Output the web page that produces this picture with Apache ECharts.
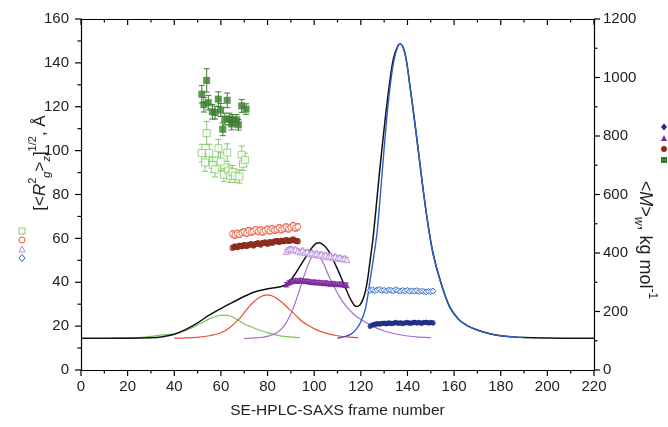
<!DOCTYPE html>
<html><head><meta charset="utf-8">
<script src="https://cdn.jsdelivr.net/npm/echarts@6/dist/echarts.min.js"></script>
<style>html,body{margin:0;padding:0;background:#fff}#c{width:668px;height:427px}</style>
</head><body><div id="c"></div>
<script>
// ---- data ----
const xTicks = [0, 220, 20];
const leftTicks = [0, 160, 20];
const rightTicks = [0, 1200, 200];

const blackCurve = [[0,14.5],[10,14.5],[20,14.5],[30,14.7],[35,15.2],[40,16.3],[45,18.5],[50,21.5],[55,25.0],[60,28.0],[65,30.8],[70,33.5],[75,35.8],[80,37.0],[85,37.8],[88,39.0],[91,42.5],[94,47.5],[97,52.5],[100,57.0],[102,58.0],[104,57.0],[106,54.5],[108,50.5],[110,46.0],[112,41.0],[114,36.0],[116,31.5],[118,29.0],[119.5,29.5],[121,32.5],[122,36],[123,42],[124,50],[125,58],[126,68],[127,79],[128,90],[130,110],[132,128],[134,142],[136,148],[137,148.6],[139,144],[141,130],[143,114],[145,97],[147,80],[149,65],[151,53],[154,41],[158,29],[162,23],[166,20],[170,18.2],[175,16.6],[180,15.6],[185,15.1],[190,14.8],[200,14.6],[210,14.5],[220,14.5]];
const greenCurve = [[13,14.5],[20,14.6],[25,14.8],[30,15.3],[35,16.0],[40,16.4],[45,18.0],[50,20.5],[55,23.3],[58,24.5],[61,25.0],[64,24.6],[67,23.0],[70,21.0],[73,19.7],[77,18.0],[80,17.0],[84,15.9],[88,15.2],[94,14.7]];
const redCurve = [[40,14.5],[45,14.6],[50,14.9],[55,15.6],[60,17.0],[64,19.5],[68,23.5],[71,27.5],[74,31.0],[77,33.4],[80,34.2],[83,33.3],[86,31.0],[89,28.0],[92,25.0],[95,22.0],[98,20.0],[101,18.3],[105,16.8],[110,15.6],[115,15.0],[119,14.8]];
const purpleCurve = [[70,14.3],[75,14.6],[80,15.3],[84,17.0],[87,20.0],[90,25.5],[92,31.0],[94,37.5],[96,44.0],[98,49.5],[100,52.5],[102,52.0],[104,48.5],[106,43.5],[108,39.0],[110,35.0],[112,31.5],[115,27.5],[118,24.5],[121,22.5],[125,20.0],[130,17.8],[135,16.4],[140,15.5],[145,15.0],[150,14.8]];
const blueCurve = [[110,14.5],[113,15.2],[116,16.5],[118,18.5],[120,22],[122,28],[124,41],[126,55],[127,63],[128,75],[130,101],[132,124],[134,140],[136,148],[137,148.6],[139,144],[141,130],[143,114],[145,97],[147,80],[149,65],[151,53],[154,41],[158,29],[162,23],[166,20],[170,18.2],[175,16.6],[180,15.6],[185,15.1],[190,14.8]];

// [frame, value, error]
const lightGreenRg = [[51.8,98.9,4],[53.2,94.6,4],[53.9,108.0,5.3],[55.0,98.9,4],[56.5,93.5,3.5],[57.5,91.5,3.5],[58.9,101.1,4],[59.9,95.0,4],[61.3,89.0,3],[62.7,99.1,4],[63.2,90.9,3],[63.9,88.5,3],[65.0,90.2,3],[66.0,88.5,3],[67.9,88.2,3],[68.9,98.1,4],[69.5,94.0,3],[70.3,95.8,3]];
const darkGreenMw = [[51.8,943,30],[52.7,907,25],[53.9,990,40],[54.6,914,25],[56.3,883,25],[57.5,880,22],[58.9,926,25],[59.9,889,22],[60.8,823,22],[61.7,858,20],[62.7,922,25],[63.6,858,20],[64.6,841,20],[65.0,855,18],[66.8,855,18],[67.5,838,18],[68.9,903,22],[70.8,892,18]];
const redFrames = [65,66,67,68,69,70,71,72,73,74,75,76,77,78,79,80,81,82,83,84,85,86,87,88,89,90,91,92,93];
const redRg = [62.0,61.5,62.3,61.8,62.6,63.0,62.4,63.5,62.8,63.3,64.0,63.1,63.8,62.9,63.6,64.2,63.4,64.5,63.7,64.1,64.8,63.9,64.6,65.2,64.3,65.0,65.8,64.7,65.3];
const darkRedMw = [418,422,420,425,423,427,424,428,430,426,431,433,429,434,436,432,437,435,439,441,438,442,440,444,441,443,446,442,440];
const purpleFrames = [88,89,90,91,92,93,94,95,96,97,98,99,100,101,102,103,104,105,106,107,108,109,110,111,112,113,114];
const purpleRg = [54.0,54.8,55.3,54.6,55.0,54.2,53.8,54.5,53.5,53.9,53.0,53.4,52.6,53.1,52.3,52.8,51.9,52.4,51.6,52.0,51.2,51.7,50.9,51.3,50.6,50.9,50.3];
const darkPurpleMw = [292,298,302,305,306,304,307,305,303,304,302,300,301,299,300,298,297,298,296,295,296,294,293,294,292,291,290];
const blueFrames = [124,125,126,127,128,129,130,131,132,133,134,135,136,137,138,139,140,141,142,143,144,145,146,147,148,149,150,151];
const blueRg = [36.3,36.6,36.1,36.5,36.8,36.2,36.4,36.0,36.5,36.3,36.1,36.6,36.2,35.9,36.3,36.0,36.4,35.8,36.1,35.9,36.2,35.7,36.0,35.8,35.6,35.9,35.7,36.0];
const navyMw = [150,154,156,158,157,159,160,158,161,159,160,162,160,161,159,161,162,160,161,163,161,162,160,162,163,161,162,161];

// ---- helpers ----
const FONT = 'Liberation Sans, Arial, sans-serif';
const zip = (xs, ys, e) => xs.map((x, i) => [x, ys[i], e]);
function errSeries(data, yIdx, color, cap) {
  return {
    type: 'custom', xAxisIndex: 0, yAxisIndex: yIdx, data: data, z: 3, silent: true,
    renderItem: function (params, api) {
      const x = api.value(0), y = api.value(1), e = api.value(2);
      const hi = api.coord([x, y + e]), lo = api.coord([x, y - e]);
      const st = { stroke: color, lineWidth: 1 };
      return { type: 'group', children: [
        { type: 'line', shape: { x1: hi[0], y1: hi[1], x2: lo[0], y2: lo[1] }, style: st },
        { type: 'line', shape: { x1: hi[0] - cap, y1: hi[1], x2: hi[0] + cap, y2: hi[1] }, style: st },
        { type: 'line', shape: { x1: lo[0] - cap, y1: lo[1], x2: lo[0] + cap, y2: lo[1] }, style: st }
      ]};
    }
  };
}
function pts(data, yIdx, sym, size, color, hollow) {
  return {
    type: 'scatter', xAxisIndex: 0, yAxisIndex: yIdx, data: data.map(d => [d[0], d[1]]),
    symbol: sym, symbolSize: size, z: 4, silent: true,
    itemStyle: hollow ? { color: '#fff', borderColor: color, borderWidth: 1 } : { color: color }
  };
}
function curve(data, color, w, z) {
  return { type: 'line', xAxisIndex: 0, yAxisIndex: 0, data: data, showSymbol: false, symbol: 'none',
    smooth: 0.35, lineStyle: { color: color, width: w }, z: z, silent: true };
}
// tick values (major + minor) generated from the axis ranges
function tickVals(t) { const out = []; for (let v = t[0]; v <= t[1] + 1e-9; v += t[2] / 2) out.push([v, (Math.round((v - t[0]) / (t[2] / 2)) % 2 === 0) ? 1 : 0]); return out; }
// side: 'bottom' | 'top' | 'left' | 'right'
function tickSeries(side) {
  const t = (side === 'bottom' || side === 'top') ? xTicks : (side === 'left' ? leftTicks : rightTicks);
  return {
    type: 'custom', xAxisIndex: 0, yAxisIndex: side === 'right' ? 1 : 0, data: tickVals(t), z: 6, silent: true, clip: false,
    renderItem: function (params, api) {
      const v = api.value(0), major = api.value(1) === 1;
      const L = major ? 6 : 3.5;
      let p, x2, y2;
      if (side === 'bottom') { p = api.coord([v, leftTicks[0]]); x2 = p[0]; y2 = p[1] + L; }
      else if (side === 'top') { p = api.coord([v, leftTicks[1]]); x2 = p[0]; y2 = p[1] + L; }
      else if (side === 'left') { p = api.coord([xTicks[0], v]); x2 = p[0] - L; y2 = p[1]; }
      else { p = api.coord([xTicks[1], v]); x2 = p[0] + L; y2 = p[1]; }
      return { type: 'line', shape: { x1: p[0], y1: p[1], x2: x2, y2: y2 }, style: { stroke: '#000', lineWidth: 1.2 } };
    }
  };
}
function makeAxis(extra, labelMargin) {
  const a = {
    type: 'value',
    axisLine: { show: true, onZero: false, lineStyle: { color: '#000', width: 1.2 } },
    axisTick: { show: false },
    splitLine: { show: false },
    axisLabel: { show: labelMargin != null, margin: labelMargin || 8, color: '#222', fontSize: 15, fontFamily: FONT,
      formatter: v => String(v) }
  };
  return Object.assign(a, extra);
}

const C = {
  lgreen: '#86c96a', dgreen: '#3b7d2e', red: '#e8553a', dred: '#8a2b1b',
  lpurple: '#b48ad6', dpurple: '#7b2b9c', blue: '#2f62c6', navy: '#1b2c88'
};

function marker(kind, cx, cy, color, hollow) {
  const style = hollow ? { fill: '#fff', stroke: color, lineWidth: 1 } : { fill: color };
  const r = 3;
  let el;
  if (kind === 'rect') el = { type: 'rect', shape: { x: cx - r, y: cy - r, width: 2 * r, height: 2 * r }, style };
  else if (kind === 'circle') el = { type: 'circle', shape: { cx, cy, r }, style };
  else if (kind === 'tri') el = { type: 'polygon', shape: { points: [[cx, cy - r], [cx + r, cy + r], [cx - r, cy + r]] }, style };
  else el = { type: 'polygon', shape: { points: [[cx, cy - r - 0.5], [cx + r, cy], [cx, cy + r + 0.5], [cx - r, cy]] }, style };
  el.z = 10;
  return el;
}

function rich(fs) {
  const sm = Math.round(fs * 0.65);
  return {
    a: { fontSize: fs, lineHeight: fs + 8, fontFamily: FONT, fill: '#222' },
    i: { fontSize: fs, lineHeight: fs + 8, fontStyle: 'italic', fontFamily: FONT, fill: '#222' },
    sup: { fontSize: sm, lineHeight: sm + 1, verticalAlign: 'top', fontFamily: FONT, fill: '#222' },
    sub: { fontSize: sm, lineHeight: sm + 1, verticalAlign: 'bottom', fontStyle: 'italic', fontFamily: FONT, fill: '#222' }
  };
}

const option = {
  animation: false,
  backgroundColor: '#fff',
  grid: { left: 81, right: 74, top: 19, bottom: 57 },
  xAxis: [
    makeAxis({ position: 'bottom', min: xTicks[0], max: xTicks[1], interval: xTicks[2],
      name: 'SE-HPLC-SAXS frame number', nameLocation: 'middle', nameGap: 33,
      nameTextStyle: { fontSize: 15.5, color: '#222', fontFamily: FONT } }, 9),
    makeAxis({ position: 'top', min: xTicks[0], max: xTicks[1], interval: xTicks[2] }, null)
  ],
  yAxis: [
    makeAxis({ position: 'left', min: leftTicks[0], max: leftTicks[1], interval: leftTicks[2] }, 12),
    makeAxis({ position: 'right', min: rightTicks[0], max: rightTicks[1], interval: rightTicks[2] }, 9)
  ],
  graphic: [
    { type: 'text', x: 40, y: 163, rotation: Math.PI / 2, z: 10,
      style: { text: '{a|[<}{i|R}{sup|2}{sub|g}{a|>}{sub|z}{a|]}{sup|1/2}{a|, Å}', rich: rich(17), align: 'center', verticalAlign: 'middle' } },
    { type: 'text', x: 645, y: 240, rotation: -Math.PI / 2, z: 10,
      style: { text: '{a|<}{i|M}{a|>}{sub|w}{a|, kg mol}{sup|-1}', rich: rich(18), align: 'center', verticalAlign: 'middle' } },
    marker('rect', 22, 231, C.lgreen, true),
    marker('circle', 22, 240, C.red, true),
    marker('tri', 22, 249, C.lpurple, true),
    marker('dia', 22, 258, C.blue, true),
    marker('dia', 664, 127, C.navy, false),
    marker('tri', 664, 138, C.dpurple, false),
    marker('circle', 664, 149, C.dred, false),
    marker('rect', 664, 160, C.dgreen, false)
  ],
  series: [
    tickSeries('bottom'), tickSeries('top'), tickSeries('left'), tickSeries('right'),
    curve(greenCurve, '#7cc35a', 1.2, 2),
    curve(redCurve, '#e8502e', 1.2, 2),
    curve(purpleCurve, '#a96ccf', 1.2, 2),
    curve(blackCurve, '#111', 1.5, 2),
    curve(blueCurve, '#2d5fc4', 1.4, 2),
    errSeries(lightGreenRg, 0, C.lgreen, 3),
    pts(lightGreenRg, 0, 'rect', 7, C.lgreen, true),
    errSeries(darkGreenMw, 1, C.dgreen, 3),
    pts(darkGreenMw, 1, 'rect', 7, C.dgreen, false),
    errSeries(zip(redFrames, redRg, 1.4), 0, C.red, 2),
    pts(zip(redFrames, redRg, 0), 0, 'circle', 6, C.red, true),
    errSeries(zip(redFrames, darkRedMw, 8), 1, C.dred, 2),
    pts(zip(redFrames, darkRedMw, 0), 1, 'circle', 6, C.dred, false),
    errSeries(zip(purpleFrames, purpleRg, 1.0), 0, C.lpurple, 2),
    pts(zip(purpleFrames, purpleRg, 0), 0, 'triangle', 6, C.lpurple, true),
    errSeries(zip(purpleFrames, darkPurpleMw, 7), 1, C.dpurple, 2),
    pts(zip(purpleFrames, darkPurpleMw, 0), 1, 'triangle', 6, C.dpurple, false),
    errSeries(zip(blueFrames, blueRg, 0.7), 0, C.blue, 2),
    pts(zip(blueFrames, blueRg, 0), 0, 'diamond', 6, C.blue, true),
    errSeries(zip(blueFrames, navyMw, 6), 1, C.navy, 2),
    pts(zip(blueFrames, navyMw, 0), 1, 'diamond', 6, C.navy, false)
  ]
};
const chart = echarts.init(document.getElementById('c'), null, { renderer: 'canvas' });
chart.setOption(option);
</script></body></html>
